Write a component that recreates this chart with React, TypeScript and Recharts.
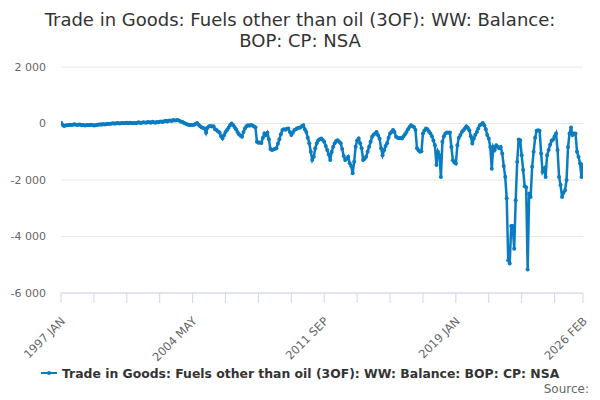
import React from "react";
import { LineChart, Line, XAxis, YAxis, CartesianGrid } from "recharts";

if (typeof document !== "undefined") {
  document.body.style.margin = "0";
}

const TITLE_LINES = ["Trade in Goods: Fuels other than oil (3OF): WW: Balance:", "BOP: CP: NSA"];
const SERIES_NAME = "Trade in Goods: Fuels other than oil (3OF): WW: Balance: BOP: CP: NSA";
const MONTH_NAMES = ["JAN", "FEB", "MAR", "APR", "MAY", "JUN", "JUL", "AUG", "SEP", "OCT", "NOV", "DEC"];
const START_YEAR = 1997;

// Monthly balance, £ million, 1997 JAN .. 2026 FEB
const values: number[] = [
  30, -40, -90, -70, -60, -50, -40, -55, -45, -30, -40, -50, -35, -45, -60, -50, -70, -65, -55, -60,
  -40, -50, -70, -60, -55, -45, -30, -40, -20, -35, -25, -10, -20, -5, 0, 10, -5, 5, 15, 0,
  10, 20, 5, 15, 25, 10, 30, 15, 5, 20, 10, 25, 40, 20, 30, 45, 35, 25, 50, 40,
  30, 60, 45, 30, 55, 40, 60, 75, 55, 80, 95, 70, 100, 110, 90, 120, 105, 115, 120, 100,
  70, 60, 30, 0, -20, -40, -50, -55, -50, -40, -10, 20, -40, -100, -130, -160, -180, -330, -150, -100,
  -90, -110, -100, -200, -230, -280, -320, -450, -530, -420, -300, -230, -150, -60, 0, -50, -120, -200, -300, -380,
  -430, -470, -300, -180, -100, -60, -80, -50, -70, -110, -130, -650, -680, -670, -690, -500, -350, -420, -330, -560,
  -900, -940, -920, -900, -880, -720, -560, -380, -230, -200, -220, -190, -180, -300, -410, -330, -230, -200, -170, -150,
  -140, -100, -60, -200, -300, -500, -700, -1000, -1290, -1180, -880, -700, -590, -560, -530, -580, -650, -800, -940, -1100,
  -1290, -1000, -820, -700, -620, -590, -650, -700, -900, -1150, -1290, -1250, -1180, -1410, -1500, -1760, -1350, -820, -600, -530,
  -700, -880, -1290, -1250, -1180, -1000, -820, -650, -470, -400, -350, -300, -420, -530, -880, -1120, -950, -800, -700, -500,
  -350, -300, -230, -300, -470, -500, -520, -510, -530, -450, -380, -300, -200, -120, -60, -100, -120, -230, -880, -950,
  -1000, -980, -350, -250, -180, -200, -280, -350, -450, -600, -770, -1470, -1000, -1120, -1890, -650, -450, -350, -320, -330,
  -320, -830, -1300, -1380, -1420, -770, -500, -410, -300, -240, -180, -95, -150, -240, -450, -710, -530, -400, -300, -180,
  -60, -30, 20, -60, -200, -410, -530, -830, -1600, -830, -940, -770, -820, -880, -830, -1060, -1500, -1890, -2650, -4840,
  -4960, -3630, -3630, -4430, -2720, -1350, -570, -590, -1120, -1650, -2220, -2260, -5170, -2480, -2600, -1530, -1000, -500, -260, -240,
  -260, -1060, -1710, -1600, -1890, -1120, -940, -750, -610, -570, -450, -350, -940, -1890, -2180, -2600, -2450, -2360, -2000, -830,
  -350, -140, -410, -350, -350, -1000, -1180, -1410, -1890, -1450,
];

const months: string[] = values.map((_, i) => `${START_YEAR + Math.floor(i / 12)} ${MONTH_NAMES[i % 12]}`);
const xTicks = [0, 22, 44, 66, 88, 110, 132, 154, 176, 198, 220, 242, 264, 286, 308, 330, 349];
const xLabelTicks = ["1997 JAN", "2004 MAY", "2011 SEP", "2019 JAN", "2026 FEB"];
const yTicks = [-6000, -4000, -2000, 0, 2000];

const data = values.map((v, i) => ({ idx: i, month: months[i], value: v }));

const COLOR = "#0a7cc1";
const FONT = "'DejaVu Sans', Verdana, sans-serif";

const fmtY = (v: number) => {
  const s = Math.abs(v).toString().replace(/\B(?=(\d{3})+(?!\d))/g, " ");
  return (v < 0 ? "-" : "") + s;
};

const XTick = (props: any) => {
  const { x, y, payload } = props;
  const label = months[payload.value];
  if (!xLabelTicks.includes(label)) return null;
  const tx = x + 2;
  const ty = y + 14;
  return (
    <text
      x={tx}
      y={ty}
      transform={`rotate(-45, ${tx}, ${ty})`}
      textAnchor="end"
      dominantBaseline="central"
      fill="#666666"
      fontSize={11.5}
      fontFamily={FONT}
    >
      {label}
    </text>
  );
};

export default function App() {
  return (
    <div style={{ position: "relative", width: 600, height: 400, background: "#fff", fontFamily: FONT }}>
      <div
        style={{
          position: "absolute",
          top: 9,
          left: 0,
          width: 600,
          textAlign: "center",
          fontSize: 18,
          lineHeight: "21px",
          color: "#333333",
        }}
      >
        {TITLE_LINES.map((t) => (
          <div key={t}>{t}</div>
        ))}
      </div>
      <LineChart width={600} height={400} data={data} margin={{ top: 67, right: 17, left: 0, bottom: 47 }}>
        <CartesianGrid vertical={false} stroke="#e6e6e6" />
        <XAxis
          dataKey="idx"
          type="number"
          domain={[0, 349]}
          ticks={xTicks}
          interval={0}
          height={60}
          stroke="#ccd6eb"
          tickLine={{ stroke: "#ccd6eb" }}
          tickSize={10}
          tick={<XTick />}
          allowDataOverflow
        />
        <YAxis
          type="number"
          domain={[-6000, 2000]}
          ticks={yTicks}
          width={61}
          axisLine={false}
          tickLine={false}
          tickSize={0}
          tickMargin={15}
          tickFormatter={fmtY}
          tick={{ fill: "#666666", fontSize: 11, fontFamily: FONT }}
        />
        <Line
          type="linear"
          dataKey="value"
          name={SERIES_NAME}
          stroke={COLOR}
          strokeWidth={2.5}
          dot={{ r: 2, fill: COLOR, stroke: COLOR, strokeWidth: 0 }}
          isAnimationActive={false}
        />
      </LineChart>
      <div
        style={{
          position: "absolute",
          top: 364,
          left: 40,
          display: "flex",
          alignItems: "center",
          height: 18,
        }}
      >
        <svg width={18} height={10} style={{ marginRight: 4 }}>
          <line x1={1} y1={5} x2={17} y2={5} stroke={COLOR} strokeWidth={2} />
          <circle cx={9} cy={5} r={2} fill={COLOR} />
        </svg>
        <span style={{ fontSize: 12.4, fontWeight: "bold", color: "#333333" }}>{SERIES_NAME}</span>
      </div>
      <div
        style={{
          position: "absolute",
          top: 382,
          right: 11,
          fontSize: 12,
          color: "#666666",
        }}
      >
        Source:
      </div>
    </div>
  );
}
